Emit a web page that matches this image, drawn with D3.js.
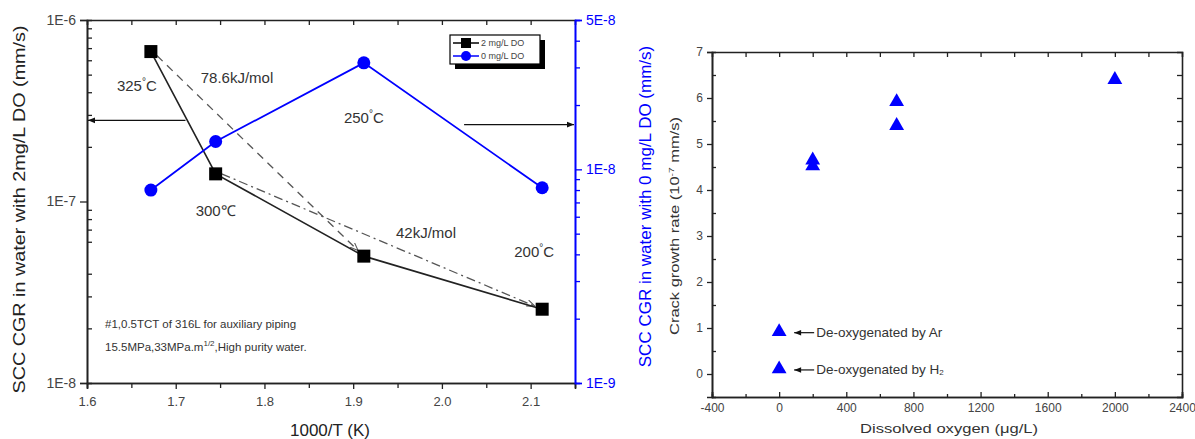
<!DOCTYPE html>
<html>
<head>
<meta charset="utf-8">
<script src="https://cdn.jsdelivr.net/npm/d3@7"></script>
<style>
  body { margin: 0; background: #fff; }
  svg { font-family: "Liberation Sans", Arial, sans-serif; }
</style>
</head>
<body>
<div id="chart"></div>
<script>
// left panel: SCC CGR vs 1000/T
const tempsC = [325, 300, 250, 200]
const invT = [1.672, 1.745, 1.912, 2.113]
const cgr2mg = [6.7e-7, 1.42e-7, 5.0e-8, 2.55e-8]
const cgr0mg = [8.0e-9, 1.35e-8, 3.15e-8, 8.2e-9]
const xTicks = [1.6, 1.7, 1.8, 1.9, 2.0, 2.1]
const yLeftTicks = [1e-8, 1e-7, 1e-6]
const yRightTicks = [1e-9, 1e-8, 5e-8]

// right panel: CGR vs dissolved oxygen
const doxValues = [200, 200, 700, 700, 2000]
const doxCgr = [4.65, 4.52, 5.92, 5.40, 6.40]
const doxKeys = [
  { x: 0, y: 0.92, label: "De-oxygenated by Ar", sub: "" },
  { x: 0, y: 0.11, label: "De-oxygenated by H", sub: "2" }
]
const doxXTicks = [-400, 0, 400, 800, 1200, 1600, 2000, 2400]
const doxYTicks = [0, 1, 2, 3, 4, 5, 6, 7]

const W = 1195, H = 439
const blue = "#0000ff"
const ink = "#222"

const svg = d3.select("#chart").append("svg")
  .attr("width", W).attr("height", H)

const defs = svg.append("defs")
defs.append("marker")
  .attr("id", "arrGrey").attr("viewBox", "0 0 10 10")
  .attr("refX", 10).attr("refY", 5)
  .attr("markerWidth", 8).attr("markerHeight", 8)
  .attr("markerUnits", "userSpaceOnUse")
  .attr("orient", "auto")
  .append("path").attr("d", "M0,1 L10,5 L0,9").attr("fill", "none").attr("stroke", "#555").attr("stroke-width", 1.3)
defs.append("marker")
  .attr("id", "arrSolid").attr("viewBox", "0 0 10 10")
  .attr("refX", 10).attr("refY", 5)
  .attr("markerWidth", 9).attr("markerHeight", 7)
  .attr("markerUnits", "userSpaceOnUse")
  .attr("orient", "auto")
  .append("path").attr("d", "M0,1 L10,5 L0,9 Z").attr("fill", "#111")

// ---------- left panel ----------
const L = { left: 87, right: 575, top: 20, bottom: 383 }
const x = d3.scaleLinear().domain([1.6, 2.15]).range([L.left, L.right])
const yL = d3.scaleLog().domain([1e-8, 1e-6]).range([L.bottom, L.top])
const yR = d3.scaleLog().domain([1e-9, 5e-8]).range([L.bottom, L.top])

const minorsOf = (lo, hi) => {
  const out = []
  for (let e = Math.floor(Math.log10(lo)); e < Math.ceil(Math.log10(hi)); e++)
    for (let m = 2; m <= 9; m++) {
      const v = m * Math.pow(10, e)
      if (v > lo && v < hi && !yRightTicks.includes(v)) out.push(v)
    }
  return out
}
const expFmt = d => {
  const e = Math.floor(Math.log10(d) + 1e-9)
  const m = Math.round(d / Math.pow(10, e))
  return m + "E" + e
}
const plainInt = d => String(d)

const styleAxis = (g, col) => {
  g.select(".domain").attr("stroke", col).attr("stroke-width", 1.6)
  g.selectAll(".tick line").attr("stroke", col).attr("stroke-width", 1.3)
  g.selectAll(".tick text").attr("fill", col)
}

const lp = svg.append("g")

lp.append("g").attr("transform", `translate(0,${L.bottom})`)
  .call(d3.axisBottom(x).tickValues(d3.range(1.65, 2.15, 0.1)).tickSize(5).tickFormat(""))
  .call(g => styleAxis(g, ink))
lp.append("g").attr("transform", `translate(0,${L.bottom})`)
  .call(d3.axisBottom(x).tickValues(xTicks).tickSize(6).tickPadding(8).tickFormat(d3.format(".1f")))
  .call(g => styleAxis(g, ink))
  .call(g => g.selectAll(".tick text").attr("font-size", 13).attr("fill", "#444"))
lp.append("g").attr("transform", `translate(0,${L.top})`)
  .call(d3.axisTop(x).tickValues(d3.range(1.65, 2.13, 0.05)).tickSize(-5).tickFormat(""))
  .call(g => styleAxis(g, ink))

lp.append("g").attr("transform", `translate(${L.left},0)`)
  .call(d3.axisLeft(yL).tickValues(minorsOf(1e-8, 1e-6)).tickSize(-5).tickFormat(""))
  .call(g => styleAxis(g, ink))
lp.append("g").attr("transform", `translate(${L.left},0)`)
  .call(d3.axisLeft(yL).tickValues(yLeftTicks).tickSize(7).tickPadding(4).tickFormat(expFmt))
  .call(g => styleAxis(g, ink))
  .call(g => g.selectAll(".tick text").attr("font-size", 14).attr("fill", "#444"))

lp.append("g").attr("transform", `translate(${L.right},0)`)
  .call(d3.axisRight(yR).tickValues(minorsOf(1e-9, 5e-8)).tickSize(5).tickFormat(""))
  .call(g => styleAxis(g, blue))
lp.append("g").attr("transform", `translate(${L.right},0)`)
  .call(d3.axisRight(yR).tickValues(yRightTicks).tickSize(7).tickPadding(4).tickFormat(expFmt))
  .call(g => styleAxis(g, blue))
  .call(g => g.selectAll(".tick text").attr("font-size", 14))

// axis titles
lp.append("text").attr("transform", `translate(25,${(L.top + L.bottom) / 2 + 8}) rotate(-90)`)
  .attr("text-anchor", "middle").attr("font-size", 17).attr("fill", ink)
  .attr("textLength", 368).attr("lengthAdjust", "spacingAndGlyphs")
  .text("SCC CGR in water with 2mg/L DO (mm/s)")
lp.append("text").attr("transform", `translate(651,${(L.top + L.bottom) / 2 + 5}) rotate(-90)`)
  .attr("text-anchor", "middle").attr("font-size", 17).attr("fill", blue)
  .text("SCC CGR in water with 0 mg/L DO (mm/s)")
lp.append("text").attr("x", 330).attr("y", 436)
  .attr("text-anchor", "middle").attr("font-size", 17).attr("fill", ink)
  .text("1000/T (K)")

// activation energy guide lines
const pts2 = invT.map((t, i) => [x(t), yL(cgr2mg[i])])
const shorten = (a, b, d) => {
  const dx = b[0] - a[0], dy = b[1] - a[1], len = Math.hypot(dx, dy)
  return [b[0] - dx / len * d, b[1] - dy / len * d]
}
const endA = shorten(pts2[0], pts2[2], 8)
lp.append("line")
  .attr("x1", pts2[0][0] + 6).attr("y1", pts2[0][1] + 4)
  .attr("x2", endA[0]).attr("y2", endA[1])
  .attr("stroke", "#555").attr("stroke-width", 1.3).attr("stroke-dasharray", "8,6")
  .attr("marker-end", "url(#arrGrey)")
const endB = shorten(pts2[1], pts2[3], 8)
lp.append("line")
  .attr("x1", pts2[1][0] + 6).attr("y1", pts2[1][1])
  .attr("x2", endB[0]).attr("y2", endB[1])
  .attr("stroke", "#555").attr("stroke-width", 1.3).attr("stroke-dasharray", "9,4,2,4")
  .attr("marker-end", "url(#arrGrey)")

// axis pointer arrows
lp.append("line")
  .attr("x1", x(1.711)).attr("y1", yL(2.8e-7)).attr("x2", x(1.6) + 1).attr("y2", yL(2.8e-7))
  .attr("stroke", "#111").attr("stroke-width", 1.3).attr("marker-end", "url(#arrSolid)")
lp.append("line")
  .attr("x1", x(2.025)).attr("y1", yR(1.62e-8)).attr("x2", x(2.15) - 1).attr("y2", yR(1.62e-8))
  .attr("stroke", "#111").attr("stroke-width", 1.3).attr("marker-end", "url(#arrSolid)")

// series lines
const line2 = d3.line().x(d => x(d[0])).y(d => yL(d[1]))
const line0 = d3.line().x(d => x(d[0])).y(d => yR(d[1]))
const d2 = invT.map((t, i) => [t, cgr2mg[i]])
const d0 = invT.map((t, i) => [t, cgr0mg[i]])
lp.append("path").attr("d", line2(d2)).attr("fill", "none").attr("stroke", ink).attr("stroke-width", 1.6)
lp.append("path").attr("d", line0(d0)).attr("fill", "none").attr("stroke", blue).attr("stroke-width", 1.8)
lp.selectAll("rect.sq").data(d2).enter().append("rect").attr("class", "sq")
  .attr("x", d => x(d[0]) - 6.5).attr("y", d => yL(d[1]) - 6.5)
  .attr("width", 13).attr("height", 13).attr("fill", "#000")
lp.selectAll("circle.ci").data(d0).enter().append("circle").attr("class", "ci")
  .attr("cx", d => x(d[0])).attr("cy", d => yR(d[1])).attr("r", 6.5).attr("fill", blue)

// temperature labels
const tLab = [
  { t: "325°C", sup: true, i: 0, s: "2", dx: -14, dy: 39 },
  { t: "300℃", sup: false, i: 1, s: "2", dx: 0, dy: 42 },
  { t: "250°C", sup: true, i: 2, s: "0", dx: 0, dy: 60 },
  { t: "200°C", sup: true, i: 3, s: "2", dx: -8, dy: -52 }
]
tLab.forEach(l => {
  const px = x(invT[l.i]) + l.dx
  const py = (l.s === "2" ? yL(cgr2mg[l.i]) : yR(cgr0mg[l.i])) + l.dy
  const tx = lp.append("text").attr("x", px).attr("y", py)
    .attr("text-anchor", "middle").attr("font-size", 15).attr("fill", "#333")
  if (l.sup) {
    tx.append("tspan").text(String(tempsC[l.i]))
    tx.append("tspan").attr("font-size", 10).attr("dy", -6).text("°")
    tx.append("tspan").attr("dy", 6).text("C")
  } else tx.text(l.t)
})
lp.append("text").attr("x", 237).attr("y", 83).attr("text-anchor", "middle")
  .attr("font-size", 15).attr("fill", "#333").text("78.6kJ/mol")
lp.append("text").attr("x", 426).attr("y", 238).attr("text-anchor", "middle")
  .attr("font-size", 15).attr("fill", "#333").text("42kJ/mol")

// specimen note
lp.append("text").attr("x", 105).attr("y", 328).attr("font-size", 11.5).attr("fill", "#333")
  .text("#1,0.5TCT of 316L for auxiliary piping")
const note2 = lp.append("text").attr("x", 105).attr("y", 351).attr("font-size", 11.5).attr("fill", "#333")
note2.append("tspan").text("15.5MPa,33MPa.m")
note2.append("tspan").attr("font-size", 8).attr("dy", -5).text("1/2")
note2.append("tspan").attr("dy", 5).text(",High purity water.")

// legend
const lg = lp.append("g").attr("transform", "translate(450,35)")
lg.append("rect").attr("x", 5).attr("y", 5).attr("width", 90).attr("height", 29).attr("fill", "#000")
lg.append("rect").attr("width", 90).attr("height", 29).attr("fill", "#fff").attr("stroke", "#000").attr("stroke-width", 1.2)
const legItems = [
  { name: "2 mg/L DO", col: "#000", shape: "sq" },
  { name: "0 mg/L DO", col: blue, shape: "ci" }
]
legItems.forEach((it, i) => {
  const yy = 8 + i * 13
  lg.append("line").attr("x1", 3).attr("x2", 29).attr("y1", yy).attr("y2", yy)
    .attr("stroke", it.col).attr("stroke-width", 1.5)
  if (it.shape === "sq") lg.append("rect").attr("x", 11).attr("y", yy - 5).attr("width", 10).attr("height", 10).attr("fill", it.col)
  else lg.append("circle").attr("cx", 16).attr("cy", yy).attr("r", 5).attr("fill", it.col)
  lg.append("text").attr("x", 31).attr("y", yy + 3).attr("font-size", 9).attr("fill", "#444").text(it.name)
})

// ---------- right panel ----------
const R = { left: 712, right: 1182, top: 52, bottom: 397 }
const x2 = d3.scaleLinear().domain([-400, 2400]).range([R.left, R.right])
const y2 = d3.scaleLinear().domain([-0.5, 7]).range([R.bottom, R.top])
const rp = svg.append("g")

rp.append("g").attr("transform", `translate(0,${R.bottom})`)
  .call(d3.axisBottom(x2).tickValues(d3.range(-200, 2400, 400)).tickSize(-3).tickFormat(""))
  .call(g => styleAxis(g, ink))
rp.append("g").attr("transform", `translate(0,${R.bottom})`)
  .call(d3.axisBottom(x2).tickValues(doxXTicks).tickSize(-5).tickPadding(6).tickFormat(plainInt))
  .call(g => styleAxis(g, ink))
  .call(g => g.selectAll(".tick text").attr("font-size", 12).attr("fill", "#444"))
rp.append("g").attr("transform", `translate(0,${R.top})`)
  .call(d3.axisTop(x2).tickValues(d3.range(-200, 2400, 200)).tickSize(-5).tickFormat(""))
  .call(g => styleAxis(g, ink))
rp.append("g").attr("transform", `translate(${R.left},0)`)
  .call(d3.axisLeft(y2).tickValues(d3.range(0.5, 7, 1)).tickSize(-4).tickFormat(""))
  .call(g => styleAxis(g, ink))
rp.append("g").attr("transform", `translate(${R.left},0)`)
  .call(d3.axisLeft(y2).tickValues(doxYTicks).tickSize(5).tickPadding(4).tickFormat(plainInt))
  .call(g => styleAxis(g, ink))
  .call(g => g.selectAll(".tick text").attr("font-size", 12).attr("fill", "#444"))
rp.append("g").attr("transform", `translate(${R.right},0)`)
  .call(d3.axisRight(y2).tickValues(d3.range(0, 7, 0.5)).tickSize(-5).tickFormat(""))
  .call(g => styleAxis(g, ink))

const yt = rp.append("text").attr("transform", `translate(679,226) rotate(-90)`)
  .attr("text-anchor", "middle").attr("font-size", 13).attr("fill", "#333")
  .attr("textLength", 218).attr("lengthAdjust", "spacingAndGlyphs")
yt.append("tspan").text("Crack growth rate (10")
yt.append("tspan").attr("font-size", 8).attr("dy", -5).text("-7")
yt.append("tspan").attr("dy", 5).text(" mm/s)")
rp.append("text").attr("x", 949).attr("y", 433).attr("text-anchor", "middle")
  .attr("font-size", 13.5).attr("fill", "#333")
  .attr("textLength", 178).attr("lengthAdjust", "spacingAndGlyphs")
  .text("Dissolved oxygen (μg/L)")

const tri = d3.symbol().type(d3.symbolTriangle).size(95)
rp.selectAll("path.tri").data(doxValues.map((v, i) => [v, doxCgr[i]])).enter()
  .append("path").attr("class", "tri")
  .attr("d", tri).attr("fill", blue)
  .attr("transform", d => `translate(${x2(d[0])},${y2(d[1])})`)

doxKeys.forEach(k => {
  const px = x2(k.x), py = y2(k.y)
  rp.append("path").attr("d", tri).attr("fill", blue).attr("transform", `translate(${px},${py})`)
  rp.append("line").attr("x1", px + 35).attr("x2", px + 15).attr("y1", py + 1).attr("y2", py + 1)
    .attr("stroke", "#111").attr("stroke-width", 1.2).attr("marker-end", "url(#arrSolid)")
  const t = rp.append("text").attr("x", px + 37).attr("y", py + 5)
    .attr("font-size", 13.5).attr("fill", "#333")
  t.append("tspan").text(k.label)
  if (k.sub) t.append("tspan").attr("font-size", 8).attr("dy", 1).text(k.sub)
})
</script>
</body>
</html>
